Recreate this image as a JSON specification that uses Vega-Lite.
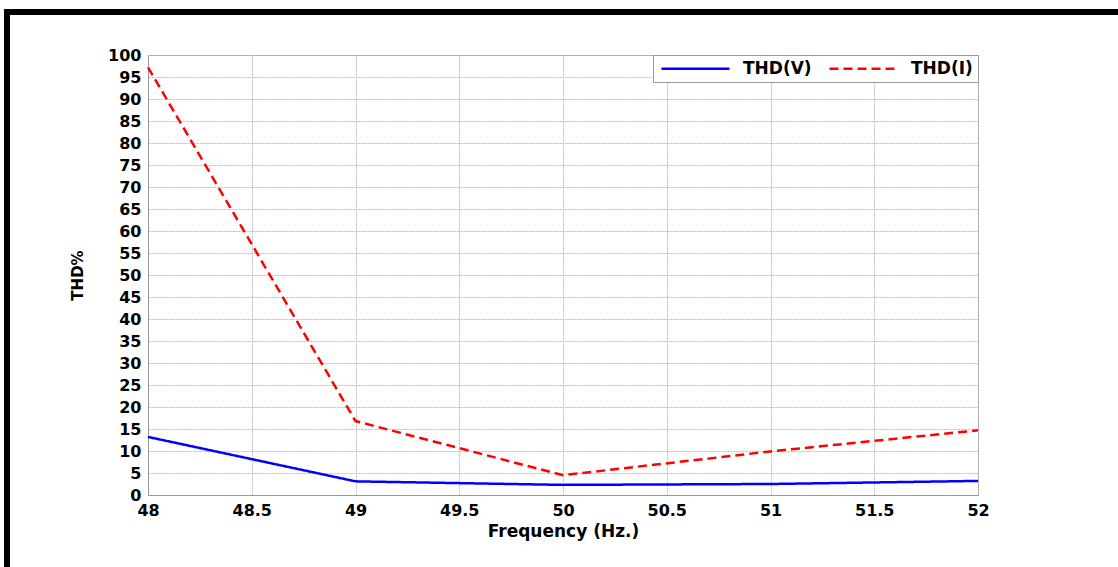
{
  "$schema": "https://vega.github.io/schema/vega-lite/v6.json",
  "width": 830,
  "height": 440,
  "autosize": {"type": "none"},
  "padding": {"left": 148, "top": 55, "right": 140, "bottom": 72},
  "background": "white",
  "config": {
    "font": "DejaVu Sans",
    "view": {"stroke": "#999999", "strokeWidth": 1},
    "axis": {
      "labelFont": "DejaVu Sans",
      "labelFontWeight": "bold",
      "labelFontSize": 16,
      "labelColor": "black",
      "labelOverlap": false,
      "titleFont": "DejaVu Sans",
      "titleFontWeight": "bold",
      "titleColor": "black",
      "domainColor": "#999999",
      "ticks": false,
      "grid": true,
      "gridColor": "#bdbdbd",
      "gridDash": [2, 1],
      "gridWidth": 1
    }
  },
  "data": {
    "values": [
      {"f": 48, "series": "THD(V)", "thd": 13.2},
      {"f": 49, "series": "THD(V)", "thd": 3.1},
      {"f": 50, "series": "THD(V)", "thd": 2.3},
      {"f": 51, "series": "THD(V)", "thd": 2.5},
      {"f": 52, "series": "THD(V)", "thd": 3.2},
      {"f": 48, "series": "THD(I)", "thd": 97.2},
      {"f": 49, "series": "THD(I)", "thd": 16.8},
      {"f": 50, "series": "THD(I)", "thd": 4.5},
      {"f": 51, "series": "THD(I)", "thd": 9.9},
      {"f": 52, "series": "THD(I)", "thd": 14.7}
    ]
  },
  "layer": [
    {
      "mark": {"type": "line", "strokeWidth": 2.5},
      "encoding": {
        "x": {
          "field": "f",
          "type": "quantitative",
          "scale": {"domain": [48, 52], "nice": false, "zero": false},
          "axis": {
            "title": "Frequency (Hz.)",
            "titleFontSize": 17,
            "titlePadding": 5,
            "labelPadding": 7,
            "format": "~g",
            "tickCount": 30,
            "values": [48, 48.5, 49, 49.5, 50, 50.5, 51, 51.5, 52],
            "labelFlush": false
          }
        },
        "y": {
          "field": "thd",
          "type": "quantitative",
          "scale": {"domain": [0, 100], "nice": false},
          "axis": {
            "title": "THD%",
            "titleFontSize": 15,
            "titlePadding": 22,
            "labelPadding": 7,
            "tickCount": 30,
            "values": [0, 5, 10, 15, 20, 25, 30, 35, 40, 45, 50, 55, 60, 65, 70, 75, 80, 85, 90, 95, 100]
          }
        },
        "color": {
          "field": "series",
          "type": "nominal",
          "scale": {"domain": ["THD(V)", "THD(I)"], "range": ["#0000ff", "#ff0000"]},
          "legend": {
            "title": null,
            "orient": "top-right",
            "offset": 0,
            "direction": "horizontal",
            "fillColor": "white",
            "strokeColor": "#999999",
            "padding": 5,
            "symbolType": "M-1,0H12.6",
            "symbolSize": 100,
            "symbolStrokeWidth": 2.5,
            "labelFont": "DejaVu Sans",
            "labelFontWeight": "bold",
            "labelFontSize": 17,
            "labelColor": "black",
            "labelOffset": 68,
            "columnPadding": 12
          }
        },
        "strokeDash": {
          "field": "series",
          "type": "nominal",
          "scale": {"domain": ["THD(V)", "THD(I)"], "range": [[1, 0], [9, 5]]},
          "legend": null
        }
      }
    },
    {
      "mark": {"type": "rect", "filled": false, "stroke": "black", "strokeWidth": 5, "clip": false},
      "encoding": {
        "x": {"datum": 47.32, "type": "quantitative"},
        "x2": {"datum": 60},
        "y": {"datum": 109.8, "type": "quantitative"},
        "y2": {"datum": -40}
      }
    }
  ]
}
